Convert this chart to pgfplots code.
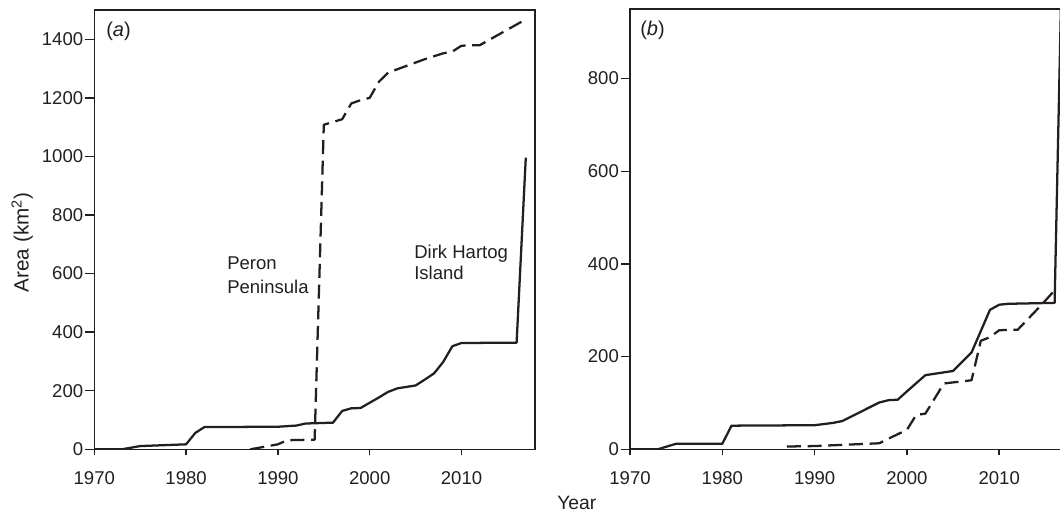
\documentclass[border=0pt]{standalone}
\usepackage{pgfplots}
\pgfplotsset{compat=1.18}
\usepackage{fontspec}
\setmainfont{Liberation Sans}
\definecolor{ink}{HTML}{231F20}
\begin{document}
\fontsize{13.2}{15.8}\selectfont
\begin{tikzpicture}[x=0.75pt,y=0.75pt]
\pgfplotsset{
  every axis/.append style={
    scale only axis,
    axis line style={ink, line width=1.1pt},
    tick style={ink, line width=1.1pt},
    tick align=outside,
    tick pos=left,
    xmin=1970, xmax=2018,
    xtick={1970,1980,1990,2000,2010},
    /pgf/number format/assume math mode=true,
    /pgf/number format/1000 sep={},
    ticklabel style={text=ink, font=\fontsize{13.9}{16}\selectfont},
    xticklabel style={yshift=-7.5pt},
    yticklabel style={xshift=0.5pt},
    xtick style={/pgfplots/major tick length=4.5pt},
    ytick style={/pgfplots/major tick length=6.75pt},
  },
  sol/.style={ink, line width=1.7pt, line join=round},
  dsh/.style={ink, line width=1.7pt, line join=round, dash pattern=on 10.5pt off 5pt},
}
\begin{axis}[at={(70.725pt,46.275pt)}, anchor=south west, width=330.5pt, height=329.5pt,
  ymin=0, ymax=1500, ytick={0,200,400,600,800,1000,1200,1400}]
\addplot[sol] coordinates {(1970,0) (1973,0) (1975,11) (1980,17) (1981,56) (1982,76)
 (1990,77) (1992,81) (1993,88) (1996,91) (1997,131) (1998,140) (1999,141) (2000,159)
 (2001,177) (2002,196) (2003,208) (2004,213) (2005,218) (2006,238) (2007,259)
 (2008,298) (2009,352) (2010,363) (2016,364) (2017,996)};
\addplot[dsh] coordinates {(1987,0) (1990,17) (1991,31) (1994,33) (1995,1108) (1997,1127)
 (1998,1181) (1999,1192) (2000,1200) (2001,1255) (2002,1286) (2006,1332) (2008,1352)
 (2009,1358) (2010,1378) (2012,1380) (2017,1468)};
\end{axis}
\begin{axis}[at={(472.5pt,46.275pt)}, anchor=south west, width=332.3pt, height=330.2pt,
  ymin=0, ymax=950, ytick={0,200,400,600,800}]
\addplot[sol] coordinates {(1970,0) (1973,0) (1975,12) (1980,12) (1981,51) (1990,52)
 (1992,57) (1993,61) (1997,101) (1998,106) (1999,107) (2000,125) (2002,160) (2005,169)
 (2007,209) (2009,301) (2010,312) (2011,314) (2016,316) (2017,1250)};
\addplot[dsh] coordinates {(1987,6) (1990,7) (1997,13) (1998,23) (2000,42) (2001,74)
 (2002,77) (2004,142) (2007,149) (2008,234) (2009,242) (2010,257) (2012,258)
 (2014.5,310) (2016,343)};
\end{axis}
\node[text=ink, anchor=west, inner sep=0pt, font=\fontsize{15}{17}\selectfont] at (106,479.5) {(\textit{a})};
\node[text=ink, anchor=west, inner sep=0pt, font=\fontsize{15}{17}\selectfont] at (640,481) {(\textit{b})};
\node[text=ink, anchor=base west, inner sep=0pt, font=\fontsize{13.9}{16}\selectfont] at (227,241) {Peron};
\node[text=ink, anchor=base west, inner sep=0pt, font=\fontsize{13.9}{16}\selectfont] at (227,217.7) {Peninsula};
\node[text=ink, anchor=base west, inner sep=0pt, font=\fontsize{13.9}{16}\selectfont] at (414,252.7) {Dirk Hartog};
\node[text=ink, anchor=base west, inner sep=0pt, font=\fontsize{13.9}{16}\selectfont] at (414,231) {Island};
\node[text=ink, rotate=90, font=\fontsize{15.5}{17}\selectfont] at (22.3,268.5) {Area (km\textsuperscript{2})};
\node[text=ink, anchor=base west, inner sep=0pt, font=\fontsize{14.5}{17}\selectfont] at (557,2) {Year};
\pgfresetboundingbox
\path[use as bounding box] (0,0) rectangle (1060,511);
\end{tikzpicture}
\end{document}
